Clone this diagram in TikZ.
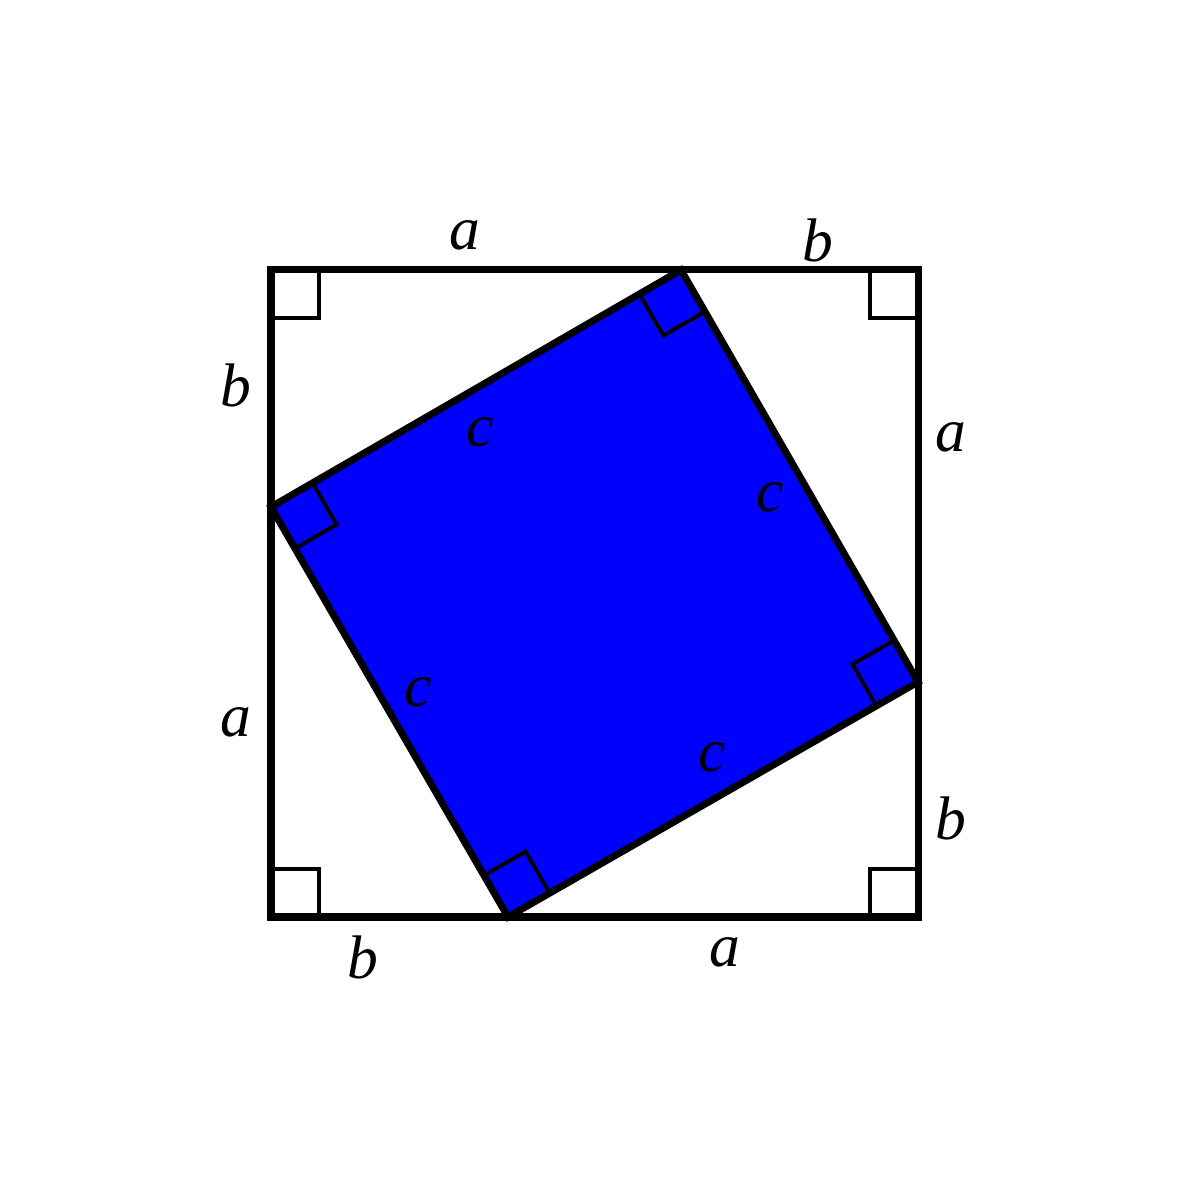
\documentclass[tikz,border=0pt]{standalone}
\usepackage{fontspec}
\setmainfont{Liberation Serif}
\usetikzlibrary{calc}
\definecolor{sqblue}{RGB}{0,0,255}

\begin{document}
\begin{tikzpicture}[
    lbl/.style={font=\fontsize{17.5}{20}\selectfont\itshape, inner sep=0pt},
    edge/.style={line width=2pt},
    rmark/.style={line width=1.1pt}]
  \useasboundingbox (0,0) rectangle (11.9,11.9);
  % ---- corners of the big square ----
  \coordinate (SW) at (2.71,2.73);
  \coordinate (SE) at (9.18,2.73);
  \coordinate (NE) at (9.18,9.20);
  \coordinate (NW) at (2.71,9.20);
  % ---- corners of the tilted square ----
  \coordinate (T) at (6.81,9.20);
  \coordinate (R) at (9.18,5.08);
  \coordinate (B) at (5.08,2.73);
  \coordinate (L) at (2.71,6.83);
  \fill[sqblue] (T) -- (R) -- (B) -- (L) -- cycle;
  % right angles, big square
  \draw[rmark] (2.71,8.72) -- (3.19,8.72) -- (3.19,9.20);
  \draw[rmark] (8.70,9.20) -- (8.70,8.72) -- (9.18,8.72);
  \draw[rmark] (2.71,3.21) -- (3.19,3.21) -- (3.19,2.73);
  \draw[rmark] (8.70,2.73) -- (8.70,3.21) -- (9.18,3.21);
  % right angles, tilted square
  \foreach \v/\p/\q in {T/L/R, R/T/B, B/R/L, L/B/T}
    \draw[rmark] ($(\v)!0.48cm!(\p)$)
      -- ($(\v)!0.48cm!(\p) + (\v)!0.48cm!(\q) - (\v)$)
      -- ($(\v)!0.48cm!(\q)$);
  \draw[edge] (SW) rectangle (NE);
  \draw[edge] (T) -- (R) -- (B) -- (L) -- cycle;
  % ---- side labels ----
  \node[lbl] (topa) at (4.65,9.55) {a};
  \node[lbl] (topb) at (8.18,9.50) {b};
  \node[lbl] (leftb) at (2.36,8.05) {b};
  \node[lbl] (righta) at (9.51,7.53) {a};
  \node[lbl] (lefta) at (2.36,4.68) {a};
  \node[lbl] (rightb) at (9.51,3.72) {b};
  \node[lbl] (botb) at (3.63,2.33) {b};
  \node[lbl] (bota) at (7.25,2.38) {a};
  \node[lbl] (cnw) at (4.80,7.58) {c};
  \node[lbl] (cne) at (7.70,6.93) {c};
  \node[lbl] (csw) at (4.18,4.98) {c};
  \node[lbl] (cse) at (7.12,4.33) {c};
\end{tikzpicture}
\end{document}
